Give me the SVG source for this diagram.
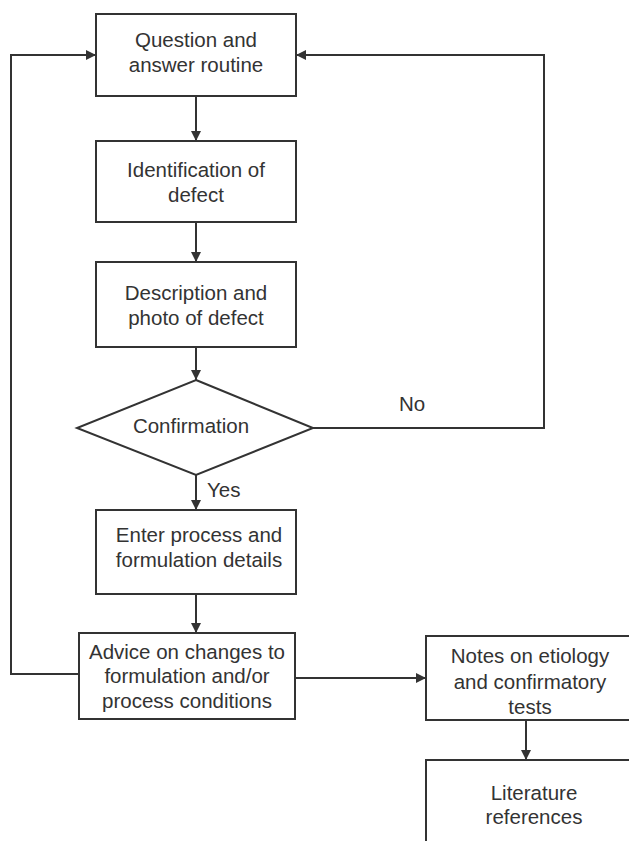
<svg xmlns="http://www.w3.org/2000/svg" width="629" height="841" viewBox="0 0 629 841">
<defs>
<style>
.box{fill:#fff;stroke:#333;stroke-width:2}
.t{font-family:"Liberation Sans",Arial,sans-serif;font-size:20.5px;fill:#333;text-anchor:middle}
.c{fill:none;stroke:#333;stroke-width:2}
</style>
<marker id="ah" viewBox="0 0 10 10" refX="10" refY="5" markerWidth="10" markerHeight="10" markerUnits="userSpaceOnUse" orient="auto">
<path d="M0,0 L10,5 L0,10 z" fill="#333"/>
</marker>
</defs>
<rect width="629" height="841" fill="#fff"/>
<g id="connectors">
<path class="c" d="M196,96 V141" marker-end="url(#ah)"/>
<path class="c" d="M196,222 V262" marker-end="url(#ah)"/>
<path class="c" d="M196,347 V380" marker-end="url(#ah)"/>
<path class="c" d="M196,475 V510" marker-end="url(#ah)"/>
<path class="c" d="M196,594 V633" marker-end="url(#ah)"/>
<path class="c" d="M313,428 H544 V55 H296" marker-end="url(#ah)"/>
<path class="c" d="M79,674 H11 V55 H96" marker-end="url(#ah)"/>
<path class="c" d="M295,678 H426" marker-end="url(#ah)"/>
<path class="c" d="M526,720 V760" marker-end="url(#ah)"/>
<text class="t" x="412" y="411">No</text>
<text class="t" x="207" y="497" style="text-anchor:start">Yes</text>
</g>
<g id="n1">
<rect class="box" x="96" y="14" width="200" height="82"/>
<text class="t" x="196" y="47">Question and</text>
<text class="t" x="196" y="72">answer routine</text>
</g>
<g id="n2">
<rect class="box" x="96" y="141" width="200" height="81"/>
<text class="t" x="196" y="177">Identification of</text>
<text class="t" x="196" y="202">defect</text>
</g>
<g id="n3">
<rect class="box" x="96" y="262" width="200" height="85"/>
<text class="t" x="196" y="300">Description and</text>
<text class="t" x="196" y="325">photo of defect</text>
</g>
<g id="n4">
<polygon class="box" points="196,380 313,428 196,475 77,428"/>
<text class="t" x="191" y="433">Confirmation</text>
</g>
<g id="n5">
<rect class="box" x="96" y="510" width="200" height="84"/>
<text class="t" x="199" y="542">Enter process and</text>
<text class="t" x="199" y="567">formulation details</text>
</g>
<g id="n6">
<rect class="box" x="79" y="633" width="216" height="86"/>
<text class="t" x="187" y="659">Advice on changes to</text>
<text class="t" x="187" y="683">formulation and/or</text>
<text class="t" x="187" y="708">process conditions</text>
</g>
<g id="n7">
<rect class="box" x="426" y="636" width="220" height="84"/>
<text class="t" x="530" y="663">Notes on etiology</text>
<text class="t" x="530" y="689">and confirmatory</text>
<text class="t" x="530" y="714">tests</text>
</g>
<g id="n8">
<rect class="box" x="426" y="760" width="220" height="100"/>
<text class="t" x="534" y="800">Literature</text>
<text class="t" x="534" y="824">references</text>
</g>
</svg>
